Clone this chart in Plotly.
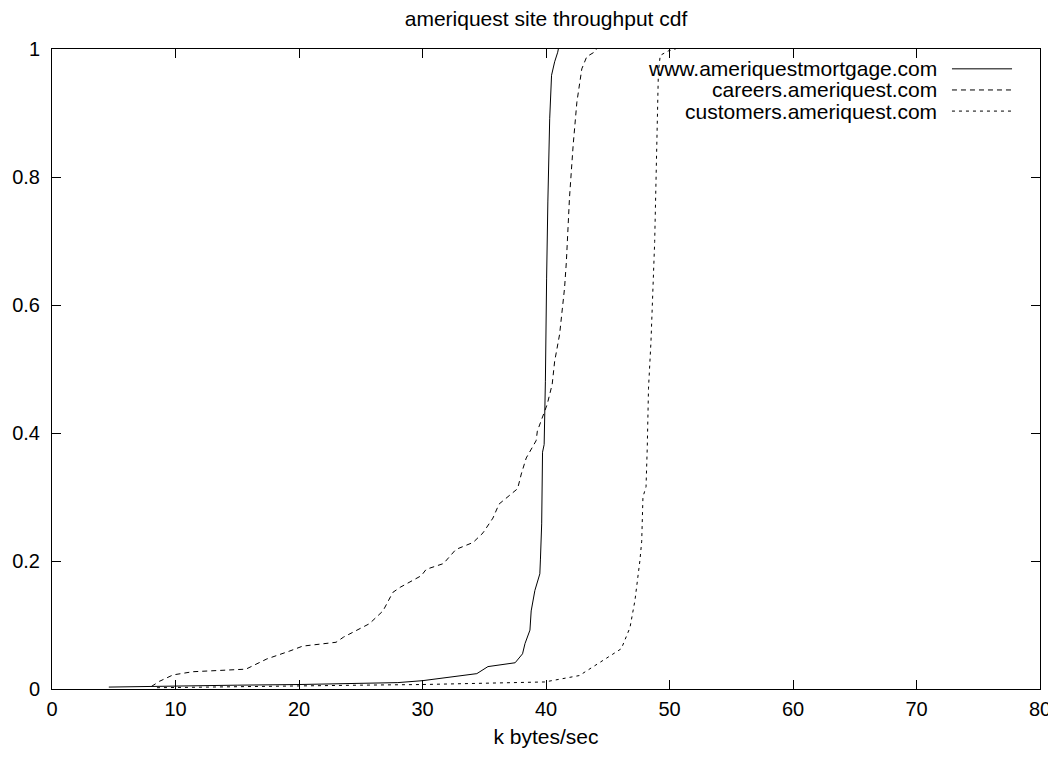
import plotly.graph_objects as go

# ---- data ----
www_x = [4.6, 10, 15, 20, 24, 28, 30, 31.1, 34.4, 35.3, 37.5, 38.1, 38.3, 38.7, 38.8, 39.1,
         39.5, 39.55, 39.65, 39.72, 39.85, 39.95, 40.0, 40.05, 40.15, 40.3, 40.45, 40.7, 40.95, 41.0]
www_y = [0.003, 0.005, 0.006, 0.007, 0.008, 0.010, 0.013, 0.016, 0.024, 0.035, 0.041, 0.055, 0.071,
         0.092, 0.122, 0.154, 0.18, 0.203, 0.258, 0.37, 0.382, 0.48, 0.595, 0.642, 0.761, 0.891,
         0.959, 0.98, 0.995, 1.0]

careers_x = [8.05, 8.7, 9.8, 11.4, 15.7, 16.5, 17.4, 19.2, 20.3, 23.0, 23.6, 25.7, 26.8, 27.6, 28.2,
             29.9, 30.3, 31.7, 32.7, 34.1, 34.9, 35.7, 36.2, 37.7, 38.0, 38.4, 38.8, 39.2, 39.3,
             39.7, 40.1, 40.5, 40.7, 41.1, 41.5, 41.65, 41.9, 42.2, 42.5, 42.9, 43.3, 43.9, 44.1]
careers_y = [0.004, 0.012, 0.022, 0.027, 0.031, 0.039, 0.047, 0.059, 0.067, 0.073, 0.081, 0.102,
             0.122, 0.151, 0.159, 0.177, 0.187, 0.196, 0.218, 0.229, 0.244, 0.267, 0.289, 0.313,
             0.336, 0.361, 0.375, 0.388, 0.403, 0.424, 0.445, 0.476, 0.512, 0.554, 0.626, 0.668,
             0.767, 0.85, 0.917, 0.969, 0.988, 0.995, 1.0]

customers_x = [8.5, 15, 20, 25, 30, 35, 39.9, 42.7, 44.6, 46.1, 46.8, 47.2, 47.6, 47.75, 47.85,
               48.1, 48.2, 48.3, 48.5, 48.8, 49.1, 49.25, 49.9, 50.5]
customers_y = [0.002, 0.004, 0.005, 0.006, 0.007, 0.009, 0.011, 0.021, 0.044, 0.063, 0.096, 0.138,
               0.2, 0.231, 0.3, 0.316, 0.378, 0.47, 0.543, 0.699, 0.964, 0.99, 0.997, 1.0]

series_names = ["www.ameriquestmortgage.com", "careers.ameriquest.com", "customers.ameriquest.com"]
x_ticks = [0, 10, 20, 30, 40, 50, 60, 70, 80]
y_ticks = [0, 0.2, 0.4, 0.6, 0.8, 1]
y_tick_labels = ["0", "0.2", "0.4", "0.6", "0.8", "1"]

FONT = "Liberation Sans, Arial, Helvetica, sans-serif"
dashes = ["solid", "5px,4px", "3px,4px"]

# page body has an 8px margin; keep the figure inside the 1056x758 window
W, H = 1046, 742

fig = go.Figure()
for xs, ys, name, dash in zip([www_x, careers_x, customers_x],
                              [www_y, careers_y, customers_y], series_names, dashes):
    fig.add_trace(go.Scatter(x=xs, y=ys, mode="lines", name=name,
                             line=dict(color="black", width=1, dash=dash),
                             hoverinfo="x+y+name"))

# gnuplot-style key: text right-aligned, line sample to the right
row_y = [0.969, 0.936, 0.903]
for name, dash, yy in zip(series_names, dashes, row_y):
    fig.add_annotation(x=0.8975, y=yy, xref="paper", yref="paper", text=name,
                       showarrow=False, xanchor="right", yanchor="middle",
                       font=dict(family=FONT, size=21, color="black"))
    fig.add_shape(type="line", xref="paper", yref="paper", x0=0.9109, x1=0.9717,
                  y0=yy, y1=yy, line=dict(color="black", width=1, dash=dash))

fig.update_layout(
    width=W, height=H,
    margin=dict(l=44, r=14, t=41, b=61, autoexpand=False),
    plot_bgcolor="white", paper_bgcolor="white",
    showlegend=False,
    font=dict(family=FONT, size=20, color="black"),
    title=dict(text="ameriquest site throughput cdf", x=0.5, xref="paper", xanchor="center",
               y=1 - 10.5 / H, yref="container", yanchor="middle",
               font=dict(family=FONT, size=21, color="black")),
)
fig.update_xaxes(range=[0, 80], tickvals=x_ticks, ticks="inside", ticklen=9, tickcolor="black",
                 showline=True, linecolor="black", linewidth=1, mirror="ticks",
                 showgrid=False, zeroline=False, automargin=False,
                 ticklabelstandoff=2, ticklabeloverflow="allow",
                 title=dict(text="k bytes/sec", standoff=10, font=dict(family=FONT, size=21)))
fig.update_yaxes(range=[0, 1], tickvals=y_ticks, ticktext=y_tick_labels, ticks="inside", ticklen=9,
                 tickcolor="black", showline=True, linecolor="black", linewidth=1, mirror="ticks",
                 showgrid=False, zeroline=False, automargin=False, ticklabelstandoff=7,
                 ticklabeloverflow="allow")

fig.write_html("out.html")
